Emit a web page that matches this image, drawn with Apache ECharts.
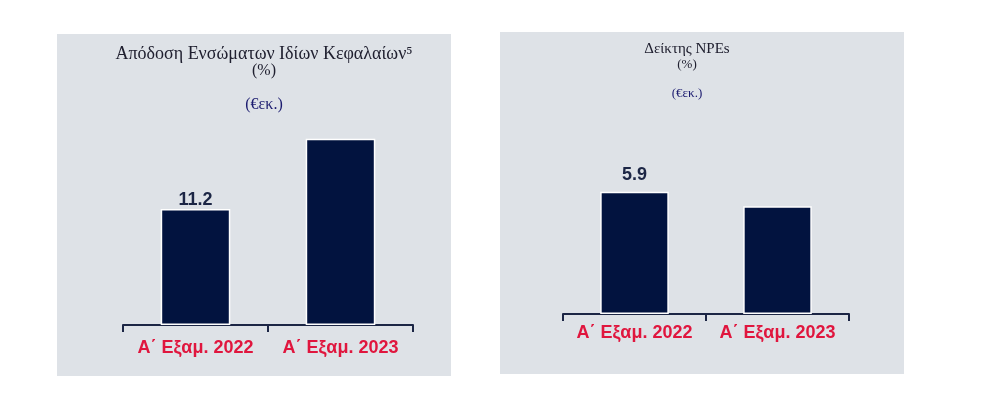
<!DOCTYPE html>
<html><head><meta charset="utf-8">
<script src="https://cdn.jsdelivr.net/npm/echarts@6/dist/echarts.min.js"></script>
<style>html,body{margin:0;padding:0;background:#fff}#c{width:991px;height:406px}</style>
</head><body><div id="c"></div>
<script>
const categories = ['Α΄ Εξαμ. 2022', 'Α΄ Εξαμ. 2023'];
const roteValues = [11.2, 18.0];
const npeValues = [5.9, 5.2];
const showValueLabel = [true, false];
const leftTitle = ['Απόδοση Ενσώματων Ιδίων Κεφαλαίων⁵', '(%)', '(€εκ.)'];
const rightTitle = ['Δείκτης NPEs', '(%)', '(€εκ.)'];

const chart = echarts.init(document.getElementById('c'), null, {renderer: 'canvas'});
const BAR = '#02133f', RED = '#e0163e', AX = '#1c2645', PANEL = '#dee2e7';

function mkData(vals) {
  return vals.map((v, i) => ({value: v, label: {show: showValueLabel[i]}}));
}
function xAx(gi, margin) {
  return {
    type: 'category', gridIndex: gi, data: categories, boundaryGap: true,
    axisLine: {show: true, lineStyle: {color: AX, width: 2}},
    axisTick: {show: true, interval: 0, length: 7, lineStyle: {color: AX, width: 2}},
    axisLabel: {interval: 0, hideOverlap: false, color: RED, fontFamily: 'Liberation Sans, Arial', fontWeight: 'bold', fontSize: 18, margin: margin}
  };
}
function yAx(gi, max) {
  return {type: 'value', gridIndex: gi, min: 0, max: max, show: false, splitLine: {show: false}};
}
function series(gi, vals, dist) {
  return {
    type: 'bar', xAxisIndex: gi, yAxisIndex: gi, data: mkData(vals), barWidth: '48%',
    itemStyle: {color: BAR, borderColor: '#ffffff', borderWidth: 1.5},
    label: {position: 'top', distance: dist, color: AX, fontFamily: 'Liberation Sans, Arial', fontWeight: 'bold', fontSize: 18},
    silent: true, animation: false
  };
}
function titles(lines, cx, ys, sizes, colors) {
  return lines.map((t, i) => ({
    text: t, left: cx, top: ys[i], textAlign: 'center',
    textStyle: {fontFamily: 'Liberation Serif, Times New Roman', fontWeight: 'normal', fontSize: sizes[i], color: colors[i]}
  }));
}

chart.setOption({
  animation: false,
  backgroundColor: '#ffffff',
  graphic: [
    {type: 'rect', left: 57, top: 34, shape: {width: 394, height: 342}, style: {fill: PANEL}, z: -10},
    {type: 'rect', left: 500, top: 32, shape: {width: 404, height: 342}, style: {fill: PANEL}, z: -10}
  ],
  title: [].concat(
    titles(leftTitle, 259, [40, 58, 92], [18, 16, 16], ['#202030', '#202030', '#1c1c70']),
    titles(rightTitle, 682, [37, 53, 82], [15, 13, 13], ['#202030', '#202030', '#1c1c70'])
  ),
  grid: [
    {left: 123, width: 290, top: 118, height: 207},
    {left: 563, width: 286, top: 169, height: 145}
  ],
  xAxis: [xAx(0, 14), xAx(1, 10)],
  yAxis: [yAx(0, 20), yAx(1, 7)],
  series: [series(0, roteValues, 0), series(1, npeValues, 8)]
});
</script></body></html>
